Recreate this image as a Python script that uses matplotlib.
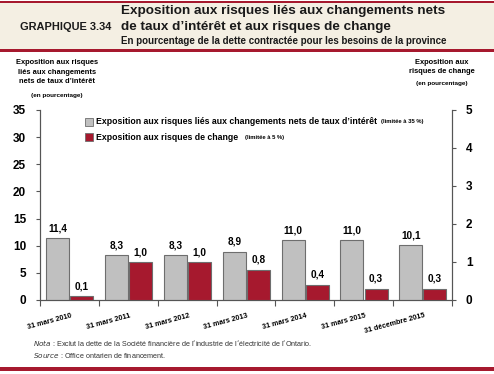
import matplotlib
matplotlib.use("Agg")
import matplotlib.pyplot as plt
import numpy as np
from matplotlib.patches import Rectangle

plt.rcParams['font.family'] = ['Liberation Sans', 'DejaVu Sans']

categories = ["31 mars 2010", "31 mars 2011", "31 mars 2012", "31 mars 2013",
              "31 mars 2014", "31 mars 2015", "31 décembre 2015"]
interest_vals = [11.4, 8.3, 8.3, 8.9, 11.0, 11.0, 10.1]
fx_vals = [0.1, 1.0, 1.0, 0.8, 0.4, 0.3, 0.3]
left_ticks = [0, 5, 10, 15, 20, 25, 30, 35]
right_ticks = [0, 1, 2, 3, 4, 5]

RED = "#a6192e"
GREY = "#c0c0c0"
EDGE = "#6e6e6e"

W, H = 494, 374
fig = plt.figure(figsize=(W / 100, H / 100), dpi=100)

def fx(px):
    return px / W

def fy(py):
    return 1 - py / H

# Header band
fig.patches.append(Rectangle((0, fy(51)), 1, fy(2) - fy(51), transform=fig.transFigure,
                             facecolor="#f4efe3", edgecolor="none", zorder=0))
fig.patches.append(Rectangle((0, fy(3)), 1, 2 / H, transform=fig.transFigure,
                             facecolor=RED, edgecolor="none", zorder=1))
fig.patches.append(Rectangle((0, fy(52)), 1, 2.5 / H, transform=fig.transFigure,
                             facecolor=RED, edgecolor="none", zorder=1))
fig.patches.append(Rectangle((0, fy(371)), 1, 4 / H, transform=fig.transFigure,
                             facecolor=RED, edgecolor="none", zorder=1))

fig.text(fx(20), fy(27), "GRAPHIQUE 3.34", fontsize=7.9, fontweight="bold",
         ha="left", va="center", color="#1a1a1a")
fig.text(fx(121), fy(11), "Exposition aux risques liés aux changements nets", fontsize=9.7,
         fontweight="bold", ha="left", va="center", color="#1a1a1a")
fig.text(fx(121), fy(27), "de taux d\u2019intérêt et aux risques de change", fontsize=9.7,
         fontweight="bold", ha="left", va="center", color="#1a1a1a")
fig.text(fx(121), fy(41), "En pourcentage de la dette contractée pour les besoins de la province",
         fontsize=7.0, fontweight="bold", ha="left", va="center", color="#1a1a1a")

# Axis titles
fig.text(fx(57), fy(72), "Exposition aux risques\nliés aux changements\nnets de taux d\u2019intérêt",
         fontsize=5.4, fontweight="bold", ha="center", va="center", linespacing=1.45)
fig.text(fx(57), fy(95), "(en pourcentage)", fontsize=4.6, fontweight="bold", ha="center", va="center")
fig.text(fx(442), fy(67), "Exposition aux\nrisques de change", fontsize=5.4, fontweight="bold",
         ha="center", va="center", linespacing=1.45)
fig.text(fx(442), fy(84), "(en pourcentage)", fontsize=4.6, fontweight="bold", ha="center", va="center")

# Axes
ax = fig.add_axes([fx(40), fy(300), fx(452) - fx(40), fy(110) - fy(300)])
ax2 = ax.twinx()

n = len(categories)
x = np.arange(n)
bw = 0.39
ax.bar(x - 0.2, interest_vals, width=bw, color=GREY, edgecolor=EDGE, linewidth=0.8, zorder=3)
ax2.bar(x + 0.21, fx_vals, width=bw, color=RED, edgecolor=EDGE, linewidth=0.8, zorder=3)

for xi, v in zip(x, interest_vals):
    ax.text(xi - 0.2, v + 0.9, f"{v:.1f}".replace(".", ","), ha="center", va="bottom",
            fontsize=7.2, fontweight="bold")
for xi, v in zip(x, fx_vals):
    ax2.text(xi + 0.21, v + 0.13, f"{v:.1f}".replace(".", ","), ha="center", va="bottom",
             fontsize=7.2, fontweight="bold")

ax.set_xlim(-0.5, n - 0.5)
ax.set_ylim(0, 35)
ax2.set_ylim(0, 5)
ax.set_yticks(left_ticks)
ax2.set_yticks(right_ticks)
ax.set_xticks(np.arange(n + 1) - 0.5)
ax.set_xticklabels([])
ax.tick_params(axis="x", direction="out", length=4, width=0.8, colors="#555555")
ax.tick_params(axis="y", direction="out", length=3, width=0.8, colors="#555555",
               labelcolor="black", labelsize=8.5, pad=7)
ax2.tick_params(axis="y", direction="out", length=3, width=0.8, colors="#555555",
                labelcolor="black", labelsize=8.5, pad=7)
for a in (ax, ax2):
    for t in a.get_yticklabels():
        t.set_fontweight("bold")
    a.spines["top"].set_visible(False)
    for s in ("left", "right", "bottom"):
        a.spines[s].set_color("#555555")
        a.spines[s].set_linewidth(0.8)
ax.patch.set_alpha(0)

for xi, lab in zip(x, categories):
    ax.text(xi + 0.02, -2.3, lab, rotation=15, ha="right", va="top", fontsize=5.2,
            fontweight="bold", rotation_mode="anchor")

# Legend (manual)
def legend_item(px, py, color, text, note, note_px):
    fig.patches.append(Rectangle((fx(px), fy(py + 4)), 8 / W, 8 / H, transform=fig.transFigure,
                                 facecolor=color, edgecolor=EDGE, linewidth=0.6, zorder=5))
    fig.text(fx(px + 11), fy(py), text, fontsize=6.3, fontweight="bold", ha="left", va="center")
    fig.text(fx(note_px), fy(py), note, fontsize=4.2, fontweight="bold", ha="left", va="center")

legend_item(85, 122, GREY, "Exposition aux risques liés aux changements nets de taux d\u2019intérêt",
            "(limitée à 35 %)", 381)
legend_item(85, 137, RED, "Exposition aux risques de change", "(limitée à 5 %)", 245)

# Footnotes
fig.text(fx(33), fy(343), "$\\it{Nota}$ : Exclut la dette de la Société financière de l\u2019industrie de l\u2019électricité de l\u2019Ontario.",
         fontsize=5.2, ha="left", va="center", color="#333333")
fig.text(fx(33), fy(356), "$\\it{Source}$ : Office ontarien de financement.", fontsize=5.2,
         ha="left", va="center", color="#333333")

fig.savefig("out.png", dpi=100)
